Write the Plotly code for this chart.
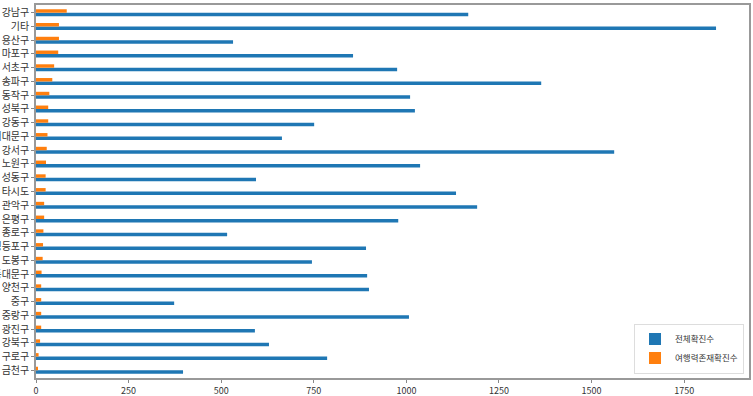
import plotly.graph_objects as go

# Categories, top to bottom as shown
categories = ["강남구", "기타", "용산구", "마포구", "서초구", "송파구", "동작구", "성북구", "강동구",
              "서대문구", "강서구", "노원구", "성동구", "타시도", "관악구", "은평구", "종로구", "영등포구",
              "도봉구", "동대문구", "양천구", "중구", "중랑구", "광진구", "강북구", "구로구", "금천구"]
total_cases = [1167, 1836, 532, 856, 975, 1364, 1010, 1023, 751,
               664, 1561, 1037, 594, 1134, 1191, 978, 516, 891,
               745, 894, 899, 373, 1007, 591, 629, 786, 397]
travel_cases = [83, 62, 62, 60, 49, 44, 36, 33, 33,
                31, 29, 27, 26, 26, 22, 22, 20, 19,
                18, 15, 14, 14, 14, 14, 11, 7, 4]
series_names = ["전체확진수", "여행력존재확진수"]
x_ticks = [0, 250, 500, 750, 1000, 1250, 1500, 1750]

BLUE = "#1f77b4"
ORANGE = "#ff7f0e"
FONT = "Noto Sans CJK KR"

fig = go.Figure()
fig.add_trace(go.Bar(y=categories, x=total_cases, orientation="h", name=series_names[0],
                     marker=dict(color=BLUE, line=dict(width=0))))
fig.add_trace(go.Bar(y=categories, x=travel_cases, orientation="h", name=series_names[1],
                     marker=dict(color=ORANGE, line=dict(width=0))))

fig.update_layout(
    width=753, height=396,
    margin=dict(l=36, r=4, t=5, b=18, autoexpand=False),
    plot_bgcolor="white", paper_bgcolor="white",
    barmode="group", bargap=0.5, bargroupgap=0,
    font=dict(family=FONT, size=10, color="#333333"),
    showlegend=True,
    legend=dict(x=0.993, y=0.012, xanchor="right", yanchor="bottom",
                bgcolor="white", bordercolor="#dddddd", borderwidth=1,
                font=dict(family=FONT, size=8.5, color="#333333"),
                traceorder="normal", itemwidth=30, tracegroupgap=0),
)
fig.update_xaxes(range=[0, 1925], tickvals=x_ticks, ticktext=[str(v) for v in x_ticks],
                 ticks="outside", ticklen=3, tickcolor="#888888",
                 showgrid=False, zeroline=False, showline=True, linecolor="#999999", linewidth=1.5,
                 mirror=True, tickfont=dict(family=FONT, size=9, color="#333333"), automargin=False)
fig.update_yaxes(categoryorder="array", categoryarray=list(reversed(categories)),
                 range=[-0.56, 26.56],
                 ticks="outside", ticklen=3, tickcolor="#888888",
                 showgrid=False, zeroline=False, showline=True, linecolor="#999999", linewidth=1.5,
                 mirror=True, tickfont=dict(family=FONT, size=10, color="#333333"), automargin=False)

fig.write_html("out.html", config={"displayModeBar": False},
               post_script="document.body.style.margin='0';document.body.style.padding='0';document.body.style.overflow='hidden';")
